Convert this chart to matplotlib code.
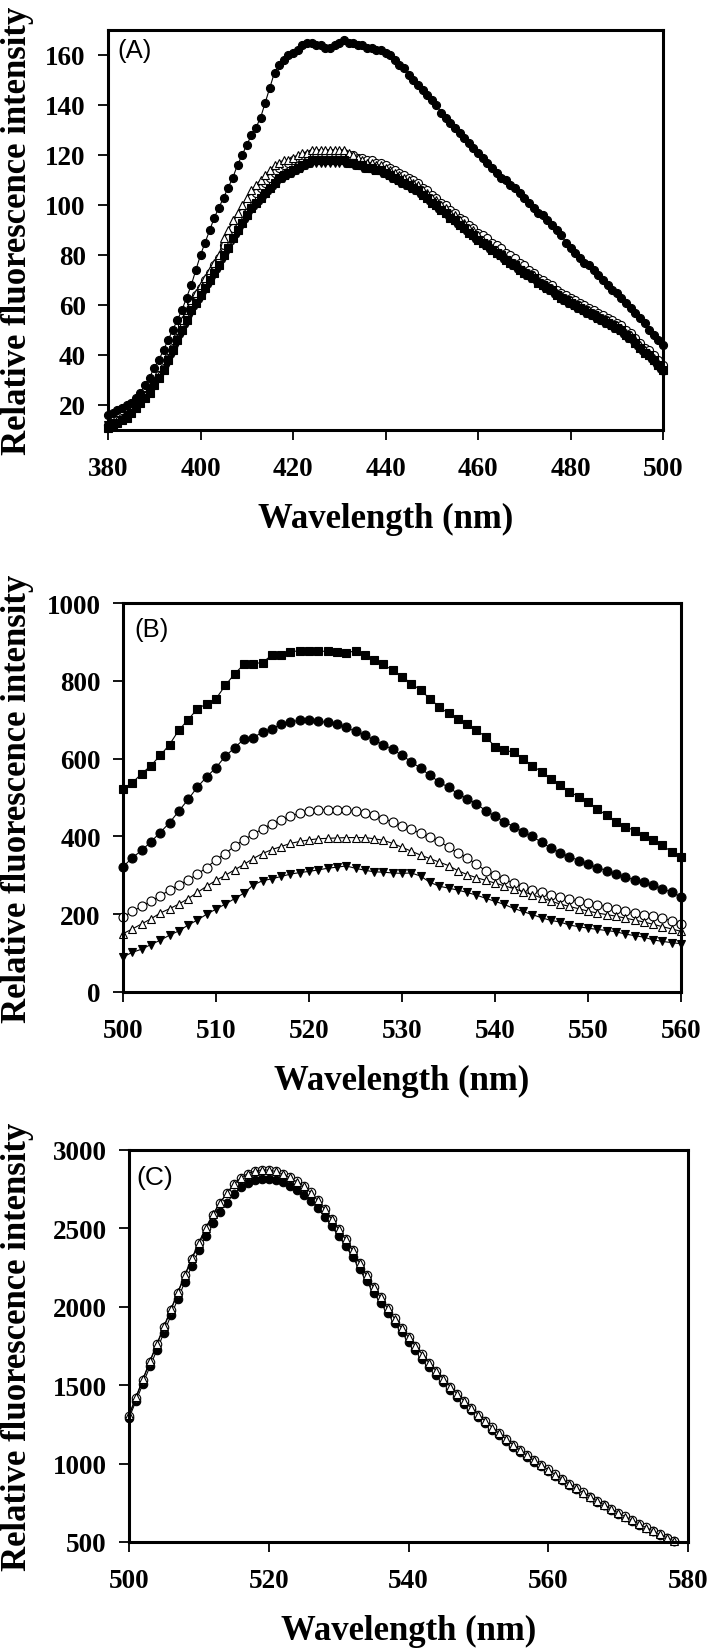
import matplotlib
matplotlib.use("Agg")
import matplotlib.pyplot as plt

# ---------------- data ----------------
# Panel A (380-500 nm, 1 nm step)
wl_a = list(range(380, 501))
a_filled_circle = [16,17,18,19,20,21,23,25,28,31,
                   35,38,42,46,50,54,58,63,68,74,
                   80,85,90,95,99,103,107,111,116,120,
                   124,128,131,135,141,147,153,156,158,160,
                   161,162,164,165,165,164,164,163,163,164,
                   165,166,165,165,164,164,163,163,162,162,
                   161,160,158,156,155,152,150,148,146,144,
                   142,140,137,135,133,131,129,127,125,123,
                   121,119,117,115,113,111,110,108,107,105,
                   103,101,99,97,96,94,92,90,88,85,
                   83,81,79,77,76,74,72,70,68,66,
                   65,63,61,59,57,55,53,50,48,46,
                   44]
a_filled_square = [11,12,13,14,15,17,19,21,23,25,
                   28,31,34,38,42,46,50,54,58,61,
                   64,67,70,73,76,80,83,87,90,93,
                   96,99,101,103,105,107,109,111,112,113,
                   114,115,116,117,118,118,118,118,118,118,
                   118,118,117,117,116,116,115,115,114,114,
                   113,112,111,110,109,108,107,106,104,103,
                   101,100,98,97,95,94,92,91,89,88,
                   86,85,84,82,81,80,78,77,76,74,
                   73,72,71,69,68,67,66,64,63,62,
                   61,60,59,58,57,56,55,54,53,52,
                   51,50,48,47,45,43,41,40,38,36,
                   34]
a_filled_down = [12,13,13,14,16,17,19,21,23,26,
                 28,31,34,37,41,45,49,53,57,60,
                 63,66,69,72,75,79,82,86,89,92,
                 95,98,100,102,104,106,108,110,111,112,
                 113,114,115,116,117,117,117,117,117,117,
                 117,117,117,116,116,115,115,114,114,113,
                 112,111,110,109,108,107,106,105,104,102,
                 101,99,98,96,95,93,92,90,89,87,
                 86,84,83,82,80,79,78,76,75,74,
                 72,71,70,69,67,66,65,64,62,61,
                 60,59,58,57,56,55,54,53,52,51,
                 50,49,47,46,44,42,41,39,37,35,
                 33]
a_open_circle = [12,13,14,15,16,18,20,22,24,26,
                 29,32,35,39,43,47,52,56,61,64,
                 67,70,73,76,79,84,87,91,94,97,
                 100,103,105,107,109,111,113,115,116,117,
                 118,118,119,120,121,121,121,121,121,121,
                 121,121,120,120,119,119,118,118,117,117,
                 116,115,114,113,112,111,110,109,107,106,
                 104,103,101,100,98,97,95,94,92,91,
                 89,88,87,85,84,83,81,80,79,77,
                 76,74,73,71,70,69,68,66,65,64,
                 63,62,61,60,59,58,57,56,55,54,
                 53,52,50,49,47,45,43,42,40,38,
                 36]
a_open_triangle = [12,13,14,15,16,18,20,22,24,26,
                   29,32,35,39,43,47,54,58,62,65,
                   68,71,74,77,80,87,90,94,97,100,
                   103,106,108,110,112,114,116,117,118,118,
                   119,120,121,121,122,122,122,122,122,122,
                   122,122,121,120,119,118,117,117,116,116,
                   115,114,113,112,111,110,109,108,106,105,
                   103,102,100,99,97,96,94,93,91,90,
                   88,86,85,83,82,81,79,78,77,75,
                   74,73,72,70,69,68,67,65,64,63,
                   62,61,60,59,58,57,56,55,54,53,
                   52,51,49,48,46,44,42,41,39,37,
                   35]

# Panel B (500-560 nm, 1 nm step)
wl_b = list(range(500, 561))
b_filled_square = [522,538,561,582,608,636,673,700,728,741,
                   754,788,818,842,844,847,866,867,875,877,
                   877,876,876,874,872,877,866,853,842,827,
                   811,793,776,754,733,716,703,690,673,656,
                   631,621,617,600,582,566,548,531,515,502,
                   489,471,454,438,425,415,402,390,377,360,
                   348]
b_filled_circle = [322,345,364,386,410,435,465,495,527,553,
                   577,606,628,650,654,668,677,688,695,698,
                   698,696,693,688,680,670,660,648,635,624,
                   608,592,575,557,540,526,510,497,484,466,
                   452,438,425,412,400,385,370,358,348,338,
                   328,320,312,304,296,288,282,274,266,256,
                   245]
b_open_circle = [193,207,220,233,247,262,275,288,303,320,
                 340,356,375,392,405,420,432,442,452,460,
                 465,468,469,469,467,465,460,454,446,437,
                 428,418,408,398,388,372,358,345,328,312,
                 300,290,280,271,263,257,250,244,238,233,
                 228,224,219,214,208,202,199,195,190,183,
                 176]
b_open_triangle = [150,162,175,188,203,214,226,240,256,272,
                   287,300,314,328,343,356,366,374,382,387,
                   391,394,395,396,397,397,397,394,390,382,
                   372,362,352,343,334,325,312,302,294,287,
                   280,273,266,258,250,242,234,226,220,214,
                   208,203,199,195,190,185,180,174,168,162,
                   156]
b_filled_down = [90,102,110,122,133,146,157,172,185,200,
                 213,226,240,254,275,286,291,297,303,307,
                 310,314,318,321,324,318,313,309,308,306,
                 305,306,298,282,272,267,262,256,249,241,
                 233,225,215,207,199,191,184,180,172,168,
                 164,161,158,155,149,145,141,134,130,127,
                 124]

# Panel C (500-578 nm, 1 nm step)
wl_c = list(range(500, 579))
c_filled_circle = [1290,1400,1510,1620,1725,1835,1945,2050,2160,2260,
                   2360,2450,2535,2605,2665,2720,2762,2790,2808,2816,
                   2816,2808,2793,2772,2746,2716,2676,2628,2573,2513,
                   2450,2388,2318,2240,2162,2090,2025,1958,1895,1837,
                   1778,1724,1670,1617,1568,1520,1471,1425,1381,1339,
                   1297,1256,1217,1180,1144,1109,1075,1043,1012,983,
                   955,924,894,865,838,811,784,758,733,705,
                   681,657,634,611,589,567,545,524,504]
c_open_circle = [1305,1420,1535,1650,1760,1870,1980,2090,2200,2305,
                 2405,2500,2586,2660,2724,2780,2822,2850,2866,2874,
                 2874,2865,2849,2827,2800,2771,2729,2679,2623,2561,
                 2496,2431,2361,2281,2201,2126,2061,1991,1926,1866,
                 1806,1751,1696,1641,1591,1541,1491,1444,1399,1356,
                 1313,1271,1231,1193,1156,1121,1086,1053,1021,991,
                 963,931,901,871,843,816,789,763,738,711,
                 687,663,639,616,593,571,549,528,508]
c_open_triangle = [1310,1425,1540,1655,1765,1875,1985,2095,2205,2310,
                   2410,2505,2590,2662,2725,2780,2822,2850,2866,2873,
                   2872,2863,2847,2825,2798,2770,2728,2678,2622,2560,
                   2495,2430,2360,2280,2200,2125,2060,1990,1925,1865,
                   1805,1750,1695,1640,1590,1540,1490,1443,1398,1355,
                   1312,1270,1230,1192,1155,1120,1085,1052,1020,990,
                   962,930,900,870,842,815,788,762,737,710,
                   686,662,638,615,592,570,548,527,507]

# ---------------- figure ----------------
plt.rcParams['font.family'] = ['Liberation Serif', 'DejaVu Serif']
plt.rcParams['font.weight'] = 'bold'

W, H, DPI = 709, 1649, 100
fig = plt.figure(figsize=(W / DPI, H / DPI), dpi=DPI)


def add_axes_px(left, top, right, bottom):
    return fig.add_axes([left / W, 1 - bottom / H, (right - left) / W, (bottom - top) / H])


def series(ax, x, y, marker, filled, ms):
    ax.plot(x, y, color='black', lw=0.8, marker=marker, ms=ms,
            mfc='black' if filled else 'white', mec='black', mew=0.8,
            clip_on=False, zorder=3)


def style(ax, xlim, ylim, xticks, yticks, tag, left_px, w_px, h_px, tag_off, tag_size):
    ax.set_xlim(*xlim)
    ax.set_ylim(*ylim)
    ax.set_xticks(xticks)
    ax.set_yticks(yticks)
    for s in ax.spines.values():
        s.set_linewidth(2.2)
        s.set_zorder(5)
    ax.tick_params(axis='both', direction='out', length=7, width=1.3, labelsize=19.5)
    ax.tick_params(axis='x', pad=12)
    ax.tick_params(axis='y', pad=9)
    ax.set_xlabel('Wavelength (nm)', fontsize=25, fontweight='bold', va='center')
    ax.set_ylabel('Relative fluorescence intensity', fontsize=25, fontweight='bold', va='center')
    ax.xaxis.set_label_coords(0.5, -88 / h_px)
    ax.yaxis.set_label_coords((18 - left_px) / w_px, 0.5)
    ax.text(tag_off[0] / w_px, 1 - tag_off[1] / h_px, tag, transform=ax.transAxes,
            ha='left', va='top', fontsize=tag_size, fontweight='normal',
            family=['Liberation Sans', 'DejaVu Sans'], zorder=6)


# Panel A
axA = add_axes_px(108, 31, 663, 431)
series(axA, wl_a, a_open_circle, 'o', False, 5.8)
series(axA, wl_a, a_open_triangle, '^', False, 5.8)
series(axA, wl_a, a_filled_down, 'v', True, 5.8)
series(axA, wl_a, a_filled_square, 's', True, 5.2)
series(axA, wl_a, a_filled_circle, 'o', True, 5.8)
style(axA, (380, 500), (10, 170), range(380, 501, 20), range(20, 161, 20),
      '(A)', 108, 555, 400, (9, 8), 18.5)

# Panel B
axB = add_axes_px(123, 604, 681, 993)
series(axB, wl_b, b_filled_square, 's', True, 6.3)
series(axB, wl_b, b_filled_circle, 'o', True, 6.5)
series(axB, wl_b, b_open_circle, 'o', False, 6.5)
series(axB, wl_b, b_open_triangle, '^', False, 6.3)
series(axB, wl_b, b_filled_down, 'v', True, 6.3)
style(axB, (500, 560), (0, 1000), range(500, 561, 10), range(0, 1001, 200),
      '(B)', 123, 558, 389, (11, 14), 18.5)

# Panel C
axC = add_axes_px(129, 1151, 688, 1543)
series(axC, wl_c, c_filled_circle, 'o', True, 6.1)
series(axC, wl_c, c_open_circle, 'o', False, 6.1)
series(axC, wl_c, c_open_triangle, '^', False, 5.9)
style(axC, (500, 580), (500, 3000), range(500, 581, 20), range(500, 3001, 500),
      '(C)', 129, 559, 392, (7, 15), 19)

fig.savefig('out.png', dpi=DPI, facecolor='white')
